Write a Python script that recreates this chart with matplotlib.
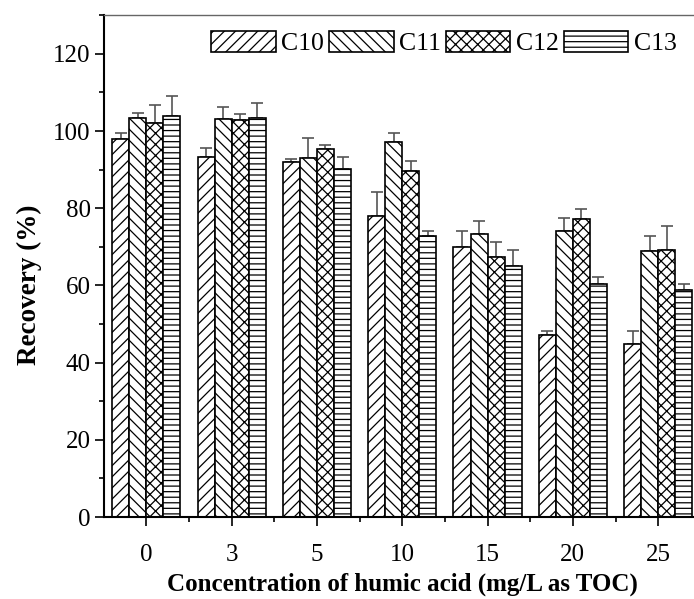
import numpy as np
import matplotlib
matplotlib.use("Agg")
import matplotlib.pyplot as plt
from matplotlib.ticker import MultipleLocator

categories = ["0", "3", "5", "10", "15", "20", "25"]
series = ["C10", "C11", "C12", "C13"]
c10 = [98.0, 93.3, 92.1, 78.1, 69.9, 47.2, 44.8]
c11 = [103.3, 103.1, 93.1, 97.2, 73.3, 74.1, 68.9]
c12 = [102.1, 102.8, 95.3, 89.7, 67.3, 77.1, 69.3]
c13 = [103.8, 103.4, 90.1, 72.9, 65.0, 60.5, 58.9]
c10_err = [1.4, 2.3, 0.7, 6.1, 4.2, 1.0, 3.5]
c11_err = [1.4, 3.2, 5.1, 2.3, 3.4, 3.5, 3.9]
c12_err = [4.7, 1.7, 1.1, 2.6, 4.0, 2.7, 6.0]
c13_err = [5.2, 3.9, 3.1, 1.2, 4.1, 1.8, 1.6]

values = [c10, c11, c12, c13]
errors = [c10_err, c11_err, c12_err, c13_err]
hatches = ["///", "\\\\\\", "xxx", "---"]

plt.rcParams["font.family"] = ["Liberation Serif", "DejaVu Serif"]
plt.rcParams["hatch.linewidth"] = 0.9

fig = plt.figure(figsize=(6.94, 5.99), dpi=100)
ax = fig.add_axes([103.7 / 694, 82 / 599, (694 - 103.7) / 694, (517 - 15.3) / 599])

x = np.arange(len(categories))
w = 0.2
for i, (vals, errs, h, name) in enumerate(zip(values, errors, hatches, series)):
    pos = x + (i - 1.5) * w
    ax.bar(pos, vals, width=w, facecolor="white", edgecolor="black",
           linewidth=1.2, hatch=h, label=name, zorder=2)
    ax.errorbar(pos, vals, yerr=[np.zeros(len(errs)), errs], fmt="none",
                ecolor="#555555", elinewidth=1.2, capsize=4, capthick=1.2, zorder=1)

ax.set_xlim(-0.5, 6.42)
ax.set_ylim(0, 130)
ax.set_xticks(x)
ax.set_xticklabels(categories)
ax.set_xticks(x[:-1] + 0.5, minor=True)
ax.yaxis.set_major_locator(MultipleLocator(20))
ax.yaxis.set_minor_locator(MultipleLocator(10))

ax.spines["right"].set_visible(False)
ax.spines["top"].set_color("#666666")
ax.spines["top"].set_linewidth(1.0)
ax.spines["left"].set_linewidth(1.5)
ax.spines["bottom"].set_linewidth(1.5)

ax.tick_params(axis="both", which="major", direction="out", length=6.5, width=1.2, labelsize=18)
ax.tick_params(axis="both", which="minor", direction="out", length=3.5, width=1.2)
ax.tick_params(axis="x", which="major", pad=13)
ax.tick_params(axis="y", which="major", pad=3)
ax.tick_params(top=False, right=False, which="both")

ax.set_xlabel("Concentration of humic acid (mg/L as TOC)", fontsize=18, fontweight="bold")
ax.xaxis.set_label_coords(0.506, -0.110)
ax.set_ylabel("Recovery (%)", fontsize=19.5, fontweight="bold")
ax.yaxis.set_label_coords(-0.105, 0.4625)

leg = ax.legend(loc="upper right", ncol=4, frameon=False, fontsize=18.5,
                handlelength=2.5, handleheight=0.91, handletextpad=0.22,
                columnspacing=0.2, borderaxespad=0.0, borderpad=0.0,
                bbox_to_anchor=(0.971, 0.969))

fig.savefig("out.png", dpi=100)
